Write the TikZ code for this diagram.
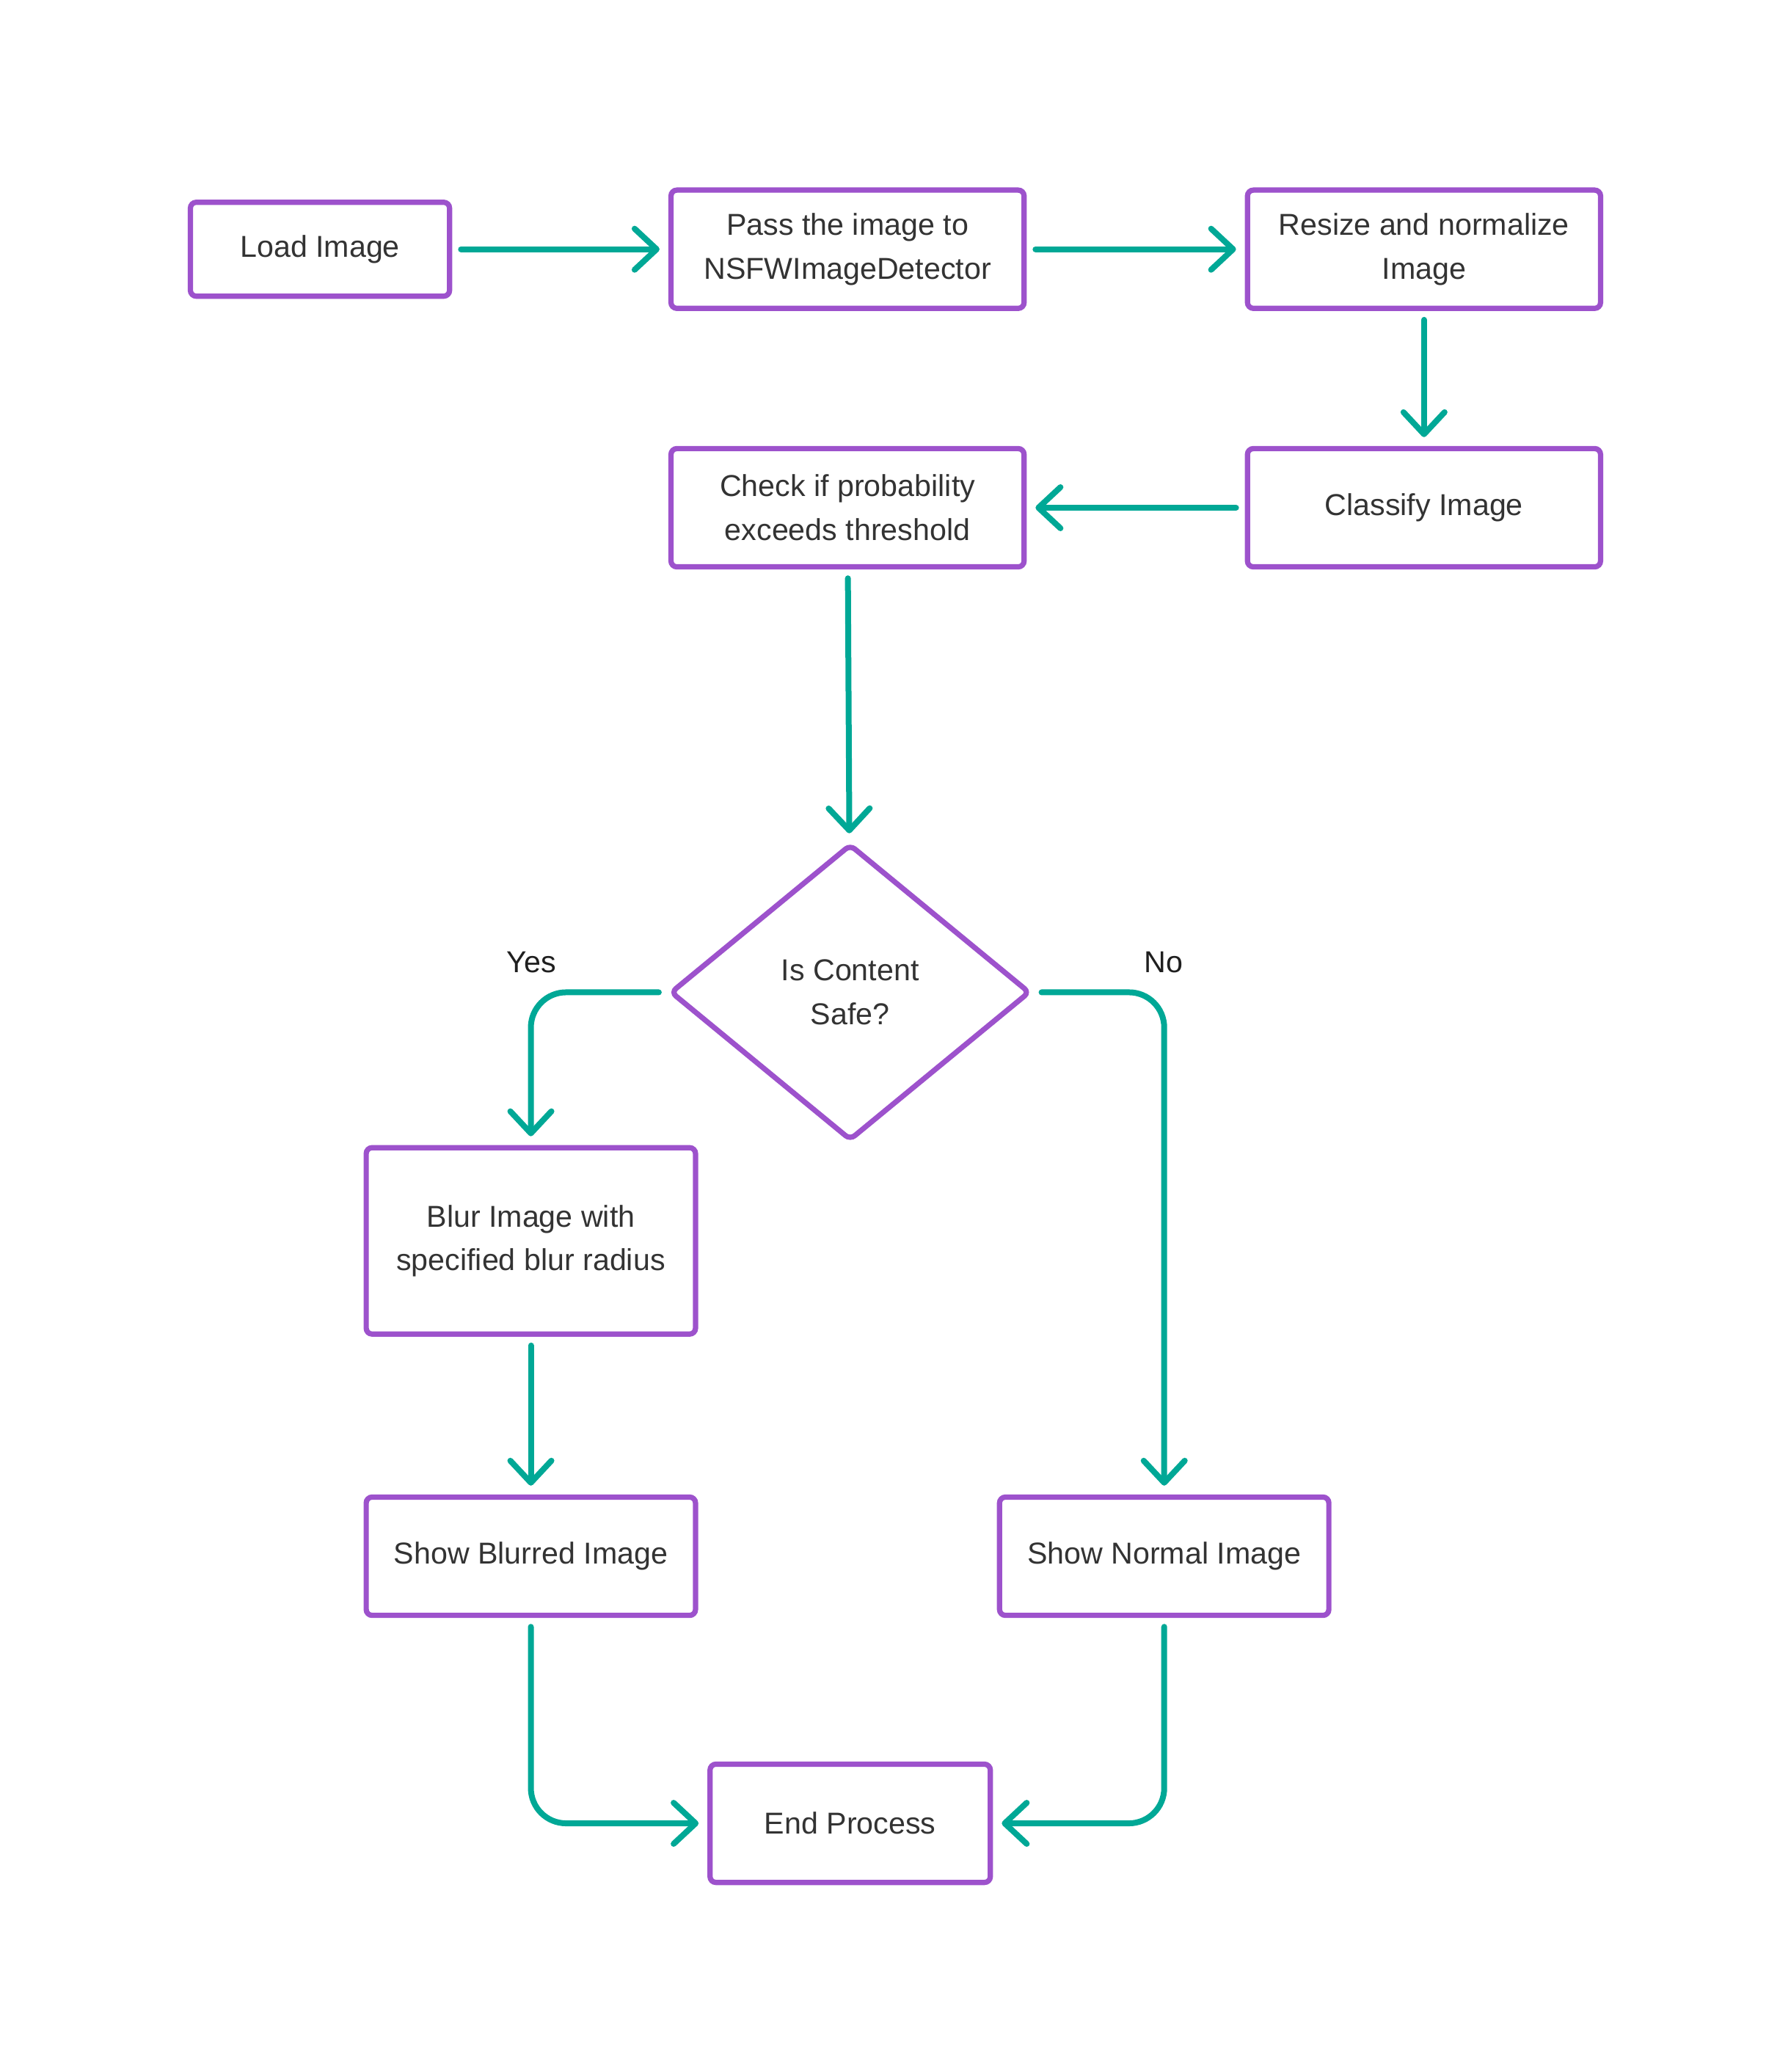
\documentclass[tikz,border=0pt]{standalone}
\usepackage{fontspec}
\setmainfont{Liberation Sans}
\usetikzlibrary{shapes.geometric,arrows.meta}
\definecolor{boxpurple}{RGB}{157,82,204}
\definecolor{flowteal}{RGB}{0,168,150}
\definecolor{txtgray}{RGB}{51,51,51}
\tikzset{
  box/.style={shape=rectangle,draw=boxpurple,line width=1.8pt,rounded corners=2pt,
    text=txtgray,align=center,inner sep=0pt,font=\fontsize{10.3}{14.9}\selectfont},
  wide/.style={box,minimum width=120.3pt,minimum height=40.3pt},
  query/.style={shape=diamond,draw=boxpurple,line width=1.8pt,rounded corners=2pt,
    text=txtgray,align=center,inner sep=0pt,minimum width=122.6pt,minimum height=101pt,
    font=\fontsize{10.3}{14.9}\selectfont},
  flow/.style={draw=flowteal,line width=2pt,line cap=round,
    -{Straight Barb[length=7.5pt,width=14pt,round]},shorten <=3pt,shorten >=3pt},
  lbl/.style={text=black!88,inner sep=0pt,font=\fontsize{10.3}{14.9}\selectfont}
}
\begin{document}
\begin{tikzpicture}[x=0.4505pt,y=-0.4505pt]
\useasboundingbox (0,0) rectangle (1354.05,1567.1);
\node[box,minimum width=88.3pt,minimum height=32pt] (load) at (242,188.5) {Load Image};
\node[wide] (pass) at (641,188.5) {Pass the image to\\NSFWImageDetector};
\node[wide] (resize) at (1077,188.5) {Resize and normalize\\Image};
\node[wide] (classify) at (1077,384) {Classify Image};
\node[wide] (check) at (641,384) {Check if probability\\exceeds threshold};

\node[query] (safe) at (643,750.5) {Is Content\\Safe?};
\node[lbl] (yes) at (402,728) {Yes};
\node[lbl] (no) at (880,728) {No};

\node[box,minimum width=112.2pt,minimum height=63.5pt] (blur) at (401.5,938.5) {Blur Image with\\specified blur radius};
\node[box,minimum width=112.2pt,minimum height=40.3pt] (sblur) at (401.5,1177) {Show Blurred Image};
\node[box,minimum width=112.2pt,minimum height=40.3pt] (snormal) at (880.5,1177) {Show Normal Image};
\node[box,minimum width=95.5pt,minimum height=40.3pt] (finish) at (643,1379) {End Process};

\path [flow] (load) edge (pass);
\path [flow] (pass) edge (resize);
\path [flow] (resize) edge (classify);
\path [flow] (classify) edge (check);
\path [flow] (check) edge (safe);
\draw [flow,rounded corners=12pt] (safe.west) -| (blur.north);
\draw [flow,rounded corners=12pt] (safe.east) -| (snormal.north);
\path [flow] (blur) edge (sblur);
\draw [flow,rounded corners=12pt] (sblur.south) |- (finish.west);
\draw [flow,rounded corners=12pt] (snormal.south) |- (finish.east);
\end{tikzpicture}
\end{document}
